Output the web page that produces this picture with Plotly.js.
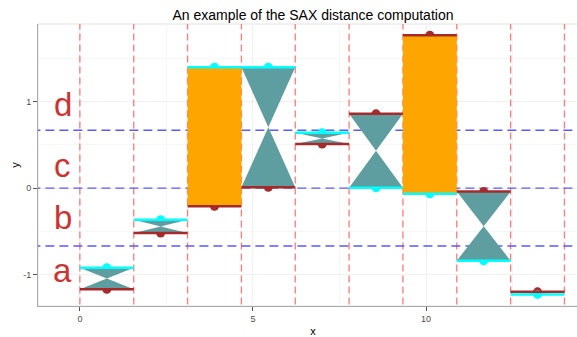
<!DOCTYPE html>
<html><head><meta charset="utf-8">
<script src="https://cdn.plot.ly/plotly-3.0.1.min.js"></script>
<style>html,body{margin:0;padding:0;overflow:hidden;background:#fff}#chart{width:590px;height:337px}</style>
</head><body><div id="chart"></div>
<script>
// segment boundaries along x
const segBounds = [0, 1.556, 3.111, 4.667, 6.222, 7.778, 9.333, 10.889, 12.444, 14];
// PAA values of the two series (red and cyan)
const seriesRed  = [-1.17, -0.52, -0.21, 0.01, 0.51, 0.86, 1.77, -0.04, -1.20];
const seriesCyan = [-0.92, -0.365, 1.40, 1.40, 0.64, 0.005, -0.065, -0.84, -1.23];
// SAX breakpoints and alphabet
const breakpoints = [-0.67, 0, 0.67];
const letters = ['a', 'b', 'c', 'd'];
const letterY = [-0.95, -0.345, 0.257, 0.963];
const letterX = -0.5;
const xTicks = [0, 5, 10];
const yTicks = [-1, 0, 1];
const xRange = [-1.21, 14.68];
const yRange = [-1.364, 1.90];

const FONT = 'Liberation Sans, Arial, sans-serif';
const RED = '#A52A2A', CYAN = '#00FFFF', TEAL = '#5F9EA0', ORANGE = '#FFA500';

function symbol(v){ let s = 0; breakpoints.forEach(b => { if (v >= b) s++; }); return s; }

const mids = [];
for (let i = 0; i < seriesRed.length; i++) mids.push((segBounds[i] + segBounds[i+1]) / 2);

const traces = [];
// reference lines (drawn first, under the marks)
{
  const vx = [], vy = [];
  segBounds.forEach(b => { vx.push(b, b, null); vy.push(yRange[0] - 1, yRange[1] + 1, null); });
  traces.push({x: vx, y: vy, mode: 'lines', type: 'scatter', line: {color: '#FF7A7A', width: 1.3, dash: '7px,4px'}, hoverinfo: 'skip'});
  const hx = [], hy = [];
  breakpoints.forEach(b => { hx.push(xRange[0] - 1, xRange[1] + 1, null); hy.push(b, b, null); });
  traces.push({x: hx, y: hy, mode: 'lines', type: 'scatter', line: {color: '#5A5AFF', width: 1.4, dash: '9px,5px'}, hoverinfo: 'skip'});
}
traces.push({x: mids, y: seriesRed, mode: 'markers', type: 'scatter', marker: {color: RED, size: 9}, hoverinfo: 'skip'});
traces.push({x: mids, y: seriesCyan, mode: 'markers', type: 'scatter', marker: {color: CYAN, size: 9}, hoverinfo: 'skip'});

for (let i = 0; i < seriesRed.length; i++) {
  const x0 = segBounds[i], x1 = segBounds[i+1], xm = mids[i];
  const hi = Math.max(seriesRed[i], seriesCyan[i]);
  const lo = Math.min(seriesRed[i], seriesCyan[i]);
  const far = Math.abs(symbol(seriesRed[i]) - symbol(seriesCyan[i])) > 1;
  let px, py;
  if (far) {
    px = [x0, x1, x1, x0, x0]; py = [hi, hi, lo, lo, hi];
  } else {
    const ym = (hi + lo) / 2;
    px = [x0, x1, xm, x1, x0, xm, x0]; py = [hi, hi, ym, lo, lo, ym, hi];
  }
  traces.push({x: px, y: py, mode: 'lines', type: 'scatter', fill: 'toself',
    fillcolor: far ? ORANGE : TEAL, line: {width: 0, color: far ? ORANGE : TEAL}, hoverinfo: 'skip'});
}

function segLine(vals){
  const xs = [], ys = [];
  vals.forEach((v, i) => { xs.push(segBounds[i], segBounds[i+1], null); ys.push(v, v, null); });
  return {xs, ys};
}
const lr = segLine(seriesRed), lc = segLine(seriesCyan);
traces.push({x: lr.xs, y: lr.ys, mode: 'lines', type: 'scatter', line: {color: RED, width: 2.5}, hoverinfo: 'skip'});
traces.push({x: lc.xs, y: lc.ys, mode: 'lines', type: 'scatter', line: {color: CYAN, width: 2.5}, hoverinfo: 'skip'});

const shapes = [{type: 'rect', xref: 'paper', yref: 'paper', x0: 0, x1: 1, y0: 0, y1: 1,
  line: {color: '#E2E2E2', width: 1}, layer: 'below'}];

const annotations = letters.map((l, i) => ({x: letterX, y: letterY[i], xref: 'x', yref: 'y', text: l,
  showarrow: false, xanchor: 'center', yanchor: 'middle', font: {family: FONT, size: 33, color: '#CD3333'}}));

const layout = {
  width: 590, height: 337,
  margin: {l: 38, r: 2, t: 24, b: 31},
  paper_bgcolor: '#fff', plot_bgcolor: '#fff',
  showlegend: false,
  font: {family: FONT},
  title: {text: 'An example of the SAX distance computation', font: {family: FONT, size: 14, color: '#000'},
    x: 0.5, xref: 'paper', xanchor: 'center', y: 1 - 15/337, yref: 'container', yanchor: 'middle'},
  xaxis: {range: xRange, tickvals: xTicks, ticktext: xTicks.map(String), ticks: 'outside', ticklen: 4,
    tickcolor: '#555', showline: true, linecolor: '#AAAAAA', linewidth: 1, gridcolor: '#F0F0F0', gridwidth: 1,
    zeroline: false,
    minor: {dtick: 2.5, tick0: 0, showgrid: true, gridcolor: '#F7F7F7', ticks: ''},
    tickfont: {family: FONT, size: 9, color: '#4D4D4D'},
    title: {text: 'x', font: {family: FONT, size: 11, color: '#000'}, standoff: 4}},
  yaxis: {range: yRange, tickvals: yTicks, ticktext: yTicks.map(String), ticks: 'outside', ticklen: 4,
    tickcolor: '#555', showline: true, linecolor: '#AAAAAA', linewidth: 1, gridcolor: '#F0F0F0', gridwidth: 1,
    zeroline: false,
    minor: {dtick: 0.5, tick0: 0, showgrid: true, gridcolor: '#F7F7F7', ticks: ''},
    tickfont: {family: FONT, size: 9, color: '#4D4D4D'},
    title: {text: 'y', font: {family: FONT, size: 11, color: '#000'}, standoff: 1}},
  shapes: shapes,
  annotations: annotations
};

Plotly.newPlot('chart', traces, layout, {displayModeBar: false, staticPlot: true});
</script>
</body></html>
